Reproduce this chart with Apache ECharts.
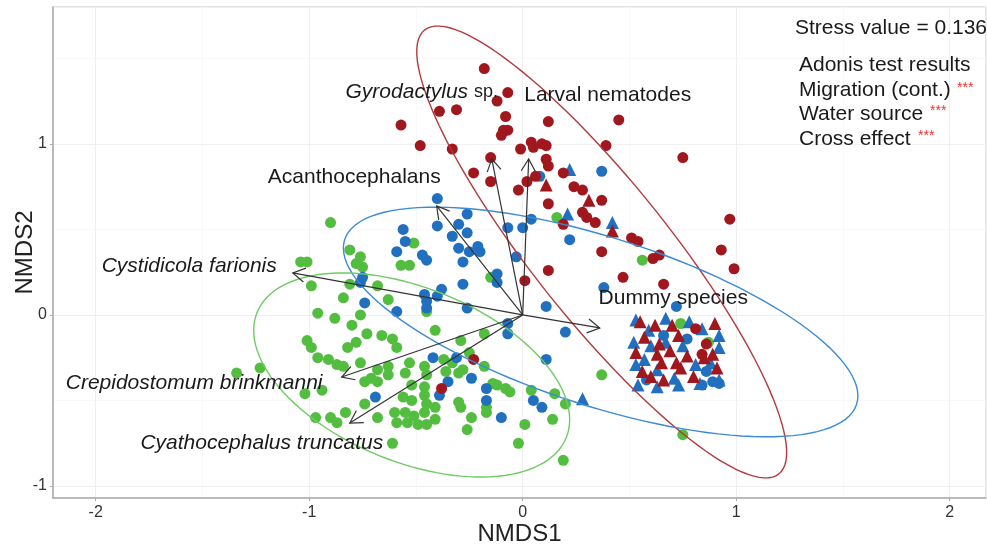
<!DOCTYPE html>
<html><head><meta charset="utf-8">
<script src="https://cdn.jsdelivr.net/npm/echarts@6/dist/echarts.min.js"></script>
<style>html,body{margin:0;padding:0;background:#fff}#c{width:987px;height:546px}</style>
</head><body><div id="c"></div>
<script>
// ---- Data (NMDS scores) ----
const redCircles = [[-0.18,1.44],[-0.07,1.30],[-0.12,1.25],[-0.39,1.19],[-0.31,1.20],[-0.08,1.16],[-0.09,1.08],[-0.07,1.08],[-0.10,1.05],[0.12,1.13],[0.45,1.14],[-0.57,1.11],[-0.48,0.99],[-0.33,0.97],[-0.15,0.92],[-0.01,0.97],[0.04,1.01],[0.05,0.98],[0.09,1.00],[0.11,0.99],[0.39,0.99],[0.75,0.92],[0.11,0.91],[0.12,0.87],[-0.23,0.83],[-0.15,0.78],[0.06,0.81],[0.02,0.78],[-0.02,0.73],[0.19,0.83],[0.24,0.75],[0.28,0.73],[0.12,0.65],[0.37,0.67],[0.28,0.60],[0.30,0.57],[0.34,0.54],[0.19,0.53],[0.51,0.45],[0.54,0.43],[0.37,0.37],[0.61,0.33],[0.64,0.35],[0.97,0.56],[0.93,0.38],[0.99,0.27],[0.66,0.18],[0.12,0.26],[0.47,0.22],[0.01,0.20],[-0.23,-0.26],[-0.38,-0.43],[0.81,-0.08],[0.86,-0.17],[0.84,-0.23]];
const redTriangles = [[0.11,0.76],[0.31,0.67],[0.42,0.49],[0.55,-0.04],[0.62,-0.06],[0.70,-0.06],[0.90,-0.05],[0.57,-0.13],[0.64,-0.17],[0.73,-0.12],[0.53,-0.22],[0.63,-0.23],[0.69,-0.21],[0.77,-0.24],[0.85,-0.25],[0.89,-0.23],[0.65,-0.28],[0.72,-0.28],[0.56,-0.33],[0.60,-0.36],[0.66,-0.38],[0.80,-0.36],[0.74,-0.31],[0.91,-0.31]];
const blueCircles = [[0.37,0.84],[0.08,0.81],[0.22,0.44],[-0.40,0.68],[-0.40,0.52],[-0.26,0.59],[-0.30,0.53],[-0.26,0.48],[-0.33,0.46],[-0.30,0.39],[-0.25,0.37],[-0.21,0.40],[-0.20,0.37],[-0.28,0.31],[-0.07,0.51],[0.00,0.51],[0.04,0.56],[-0.03,0.34],[-0.56,0.50],[-0.55,0.43],[-0.59,0.37],[-0.47,0.35],[-0.45,0.32],[-0.12,0.24],[-0.12,0.19],[-0.28,0.18],[-0.38,0.15],[-0.26,0.04],[0.11,0.05],[0.38,0.16],[0.20,-0.10],[-0.07,-0.05],[-0.07,-0.11],[-0.31,-0.25],[0.11,-0.26],[-0.24,-0.37],[-0.35,-0.39],[-0.39,-0.47],[-0.17,-0.43],[-0.17,-0.50],[-0.10,-0.60],[0.05,-0.50],[0.09,-0.54],[-0.76,0.19],[-0.75,0.22],[-0.74,0.07],[-0.59,0.02],[-0.45,0.08],[-0.45,0.04],[-0.40,0.11],[-0.46,0.12],[-0.42,-0.25],[-0.69,-0.48],[0.72,0.05],[0.77,-0.14],[0.86,-0.33],[0.89,-0.39],[0.92,-0.40],[0.84,-0.41],[0.58,-0.38],[0.66,-0.12]];
const blueTriangles = [[0.22,0.85],[0.21,0.59],[0.42,0.54],[0.28,-0.49],[0.53,-0.03],[0.67,-0.02],[0.84,-0.08],[0.92,-0.12],[0.52,-0.16],[0.60,-0.18],[0.67,-0.16],[0.75,-0.18],[0.92,-0.19],[0.53,-0.29],[0.63,-0.32],[0.73,-0.41],[0.83,-0.40],[0.92,-0.38],[0.54,-0.41],[0.63,-0.42],[0.81,-0.29],[0.59,-0.09],[0.78,-0.04],[0.57,-0.26],[0.71,-0.37],[0.88,-0.28]];
const greenCircles = [[0.16,0.57],[0.56,0.32],[0.75,-0.70],[0.74,-0.05],[0.87,-0.16],[-0.15,0.22],[-0.18,-0.11],[-0.29,-0.15],[-0.25,-0.22],[-0.37,-0.26],[-0.33,-0.28],[-0.36,-0.33],[-0.30,-0.34],[-0.28,-0.32],[-0.18,-0.30],[0.37,-0.35],[-0.12,-0.41],[-0.08,-0.43],[-0.06,-0.45],[-0.14,-0.40],[-0.17,-0.54],[-0.17,-0.57],[-0.30,-0.51],[-0.29,-0.54],[-0.24,-0.60],[-0.26,-0.67],[0.04,-0.44],[0.15,-0.46],[0.20,-0.52],[0.14,-0.61],[0.01,-0.64],[-0.02,-0.75],[0.19,-0.85],[-1.04,0.31],[-1.01,0.31],[-0.99,0.17],[-0.81,0.18],[-0.68,0.17],[-0.84,0.10],[-0.63,0.09],[-0.96,0.01],[-0.88,-0.02],[-0.76,0.00],[-0.80,-0.06],[-0.73,-0.11],[-0.66,-0.12],[-0.61,-0.14],[-0.41,-0.09],[-0.78,-0.16],[-0.82,-0.19],[-1.01,-0.15],[-0.99,-0.19],[-0.96,-0.25],[-0.91,-0.26],[-0.87,-0.29],[-0.84,-0.30],[-0.59,-0.19],[-0.76,-0.28],[-0.68,-0.32],[-0.63,-0.30],[-0.63,-0.35],[-0.55,-0.34],[-0.53,-0.28],[-0.46,-0.30],[-0.45,-0.35],[-0.74,-0.39],[-0.71,-0.37],[-0.68,-0.39],[-0.52,-0.41],[-0.46,-0.42],[-1.34,-0.34],[-1.23,-0.31],[-1.02,-0.46],[-0.94,-0.44],[-0.74,-0.52],[-0.56,-0.48],[-0.60,-0.57],[-0.55,-0.57],[-0.51,-0.59],[-0.46,-0.57],[-0.59,-0.63],[-0.54,-0.63],[-0.49,-0.64],[-0.45,-0.64],[-0.46,-0.47],[-0.45,-0.52],[-0.52,-0.50],[-0.68,-0.60],[-0.83,-0.57],[-0.97,-0.60],[-0.90,-0.60],[-0.87,-0.63],[-0.61,-0.75],[-0.41,-0.54],[-0.41,-0.61],[-0.90,0.54],[-0.51,0.42],[-0.81,0.38],[-0.76,0.34],[-0.78,0.30],[-0.75,0.28],[-0.57,0.29],[-0.53,0.29],[-0.45,0.02]];

// confidence ellipses: centre and two semi-axis vectors (data units)
const ellipseGroups = ['red', 'blue', 'green'];
const ellipseCenter = [[0.37, 0.368], [0.365, -0.041], [-0.52, -0.351]];
const ellipseAxisA = [[0.83, -1.297], [1.199, -0.481], [0.724, -0.366]];
const ellipseAxisB = [[0.248, 0.249], [0.12, 0.468], [0.153, 0.471]];

// species vectors (envfit arrows)
const speciesNames = ['Gyrodactylus sp.', 'Larval nematodes', 'Acanthocephalans', 'Cystidicola farionis', 'Crepidostomum brinkmanni', 'Cyathocephalus truncatus', 'Dummy species'];
const speciesVectors = [[-0.145, 0.912], [0.028, 0.912], [-0.403, 0.637], [-1.077, 0.246], [-0.848, -0.363], [-0.810, -0.632], [0.361, -0.076]];
const speciesLabelAt = [[-0.473, 1.304], [0.398, 1.287], [-0.789, 0.807], [-1.562, 0.287], [-1.539, -0.398], [-1.222, -0.749], [0.705, 0.099]];
const speciesItalic = [true, false, false, true, true, true, false];

const xTicks = [-2, -1, 0, 1, 2];
const yTicks = [-1, 0, 1];

const stressText = 'Stress value = 0.136';
const adonisTitle = 'Adonis test results';
const adonisTerms = ['Migration (cont.)', 'Water source', 'Cross effect'];
const adonisSignif = ['***', '***', '***'];

// ---- Styles ----
const FONT = '"Liberation Sans", Arial, Helvetica, sans-serif';
const RED = '#A0171E', BLUE = '#2170C0', GREEN = '#53BD40';
const ellipseColors = { red: '#B3393D', blue: '#3B8BD6', green: '#6FCB63' };

const chart = echarts.init(document.getElementById('c'));

function scatter(data, color, symbol, size) {
  return { type: 'scatter', data, symbol, symbolSize: size, itemStyle: { color, opacity: 1 }, z: 2, silent: true };
}

const tickFmt = v => (xTicks.includes(v) || yTicks.includes(v)) ? String(v) : '';

const option = {
  animation: false,
  textStyle: { fontFamily: FONT },
  grid: { left: 53, right: 1, top: 7, bottom: 48, containLabel: false, outerBoundsMode: 'none', show: true, borderColor: '#c8c8c8', borderWidth: 1 },
  xAxis: {
    type: 'value', min: -2.2, max: 2.17, splitNumber: 5,
    name: 'NMDS1', nameLocation: 'middle', nameGap: 24, nameMoveOverlap: false,
    nameTextStyle: { fontSize: 24, color: '#222', fontFamily: FONT },
    axisLine: { show: true, onZero: false, lineStyle: { color: '#aaa', width: 1.5 } },
    axisTick: { show: true, length: 3, lineStyle: { color: '#aaa' } },
    axisLabel: { fontSize: 16, color: '#333', fontFamily: FONT, margin: 7, formatter: tickFmt, showMinLabel: false, showMaxLabel: false },
    splitLine: { show: true, lineStyle: { color: '#f0f0f0', width: 1 } },
    minorTick: { show: false, splitNumber: 2 },
    minorSplitLine: { show: true, lineStyle: { color: '#f8f8f8', width: 1 } }
  },
  yAxis: {
    type: 'value', min: -1.07, max: 1.80, splitNumber: 3,
    name: 'NMDS2', nameLocation: 'middle', nameGap: 16, nameRotate: 90, nameMoveOverlap: false,
    nameTextStyle: { fontSize: 24, color: '#222', fontFamily: FONT },
    axisLine: { show: true, onZero: false, lineStyle: { color: '#aaa', width: 1.5 } },
    axisTick: { show: true, length: 3, lineStyle: { color: '#aaa' } },
    axisLabel: { fontSize: 16, color: '#333', fontFamily: FONT, margin: 6, formatter: tickFmt, showMinLabel: false, showMaxLabel: false },
    splitLine: { show: true, lineStyle: { color: '#f0f0f0', width: 1 } },
    minorTick: { show: false, splitNumber: 2 },
    minorSplitLine: { show: true, lineStyle: { color: '#f8f8f8', width: 1 } }
  },
  series: [
    scatter(greenCircles, GREEN, 'circle', 11),
    scatter(blueCircles, BLUE, 'circle', 11),
    scatter(blueTriangles, BLUE, 'triangle', 13),
    scatter(redCircles, RED, 'circle', 11),
    scatter(redTriangles, RED, 'triangle', 13),
    {
      type: 'custom', silent: true, z: 3,
      data: ellipseCenter.map((c, i) => [c[0], c[1], i]),
      encode: { x: 0, y: 1 },
      renderItem: function (params, api) {
        const i = api.value(2);
        const c = ellipseCenter[i], a = ellipseAxisA[i], b = ellipseAxisB[i];
        const pts = [];
        for (let k = 0; k <= 120; k++) {
          const t = 2 * Math.PI * k / 120;
          pts.push(api.coord([c[0] + a[0] * Math.cos(t) + b[0] * Math.sin(t), c[1] + a[1] * Math.cos(t) + b[1] * Math.sin(t)]));
        }
        return { type: 'polyline', shape: { points: pts }, style: { stroke: ellipseColors[ellipseGroups[i]], lineWidth: 1.4, fill: null } };
      }
    },
    {
      type: 'custom', silent: true, z: 4,
      data: speciesVectors.map((v, i) => [v[0], v[1], i]),
      encode: { x: 0, y: 1 },
      renderItem: function (params, api) {
        const s = api.coord([0, 0]);
        const e = api.coord([api.value(0), api.value(1)]);
        const ang = Math.atan2(e[1] - s[1], e[0] - s[0]);
        const L = 14, A = Math.PI / 6;
        const p1 = [e[0] - L * Math.cos(ang - A), e[1] - L * Math.sin(ang - A)];
        const p2 = [e[0] - L * Math.cos(ang + A), e[1] - L * Math.sin(ang + A)];
        return { type: 'group', children: [
          { type: 'line', shape: { x1: s[0], y1: s[1], x2: e[0], y2: e[1] }, style: { stroke: '#333', lineWidth: 1.2 } },
          { type: 'polyline', shape: { points: [p1, e, p2] }, style: { stroke: '#333', lineWidth: 1.2, fill: null } }
        ] };
      }
    },
    {
      type: 'custom', silent: true, z: 5,
      data: speciesLabelAt.map((p, i) => [p[0], p[1], i]),
      encode: { x: 0, y: 1 },
      renderItem: function (params, api) {
        const i = api.value(2);
        const p = api.coord([api.value(0), api.value(1)]);
        const name = speciesNames[i];
        let text, rich;
        if (name.endsWith(' sp.')) {
          text = '{i|' + name.slice(0, -4) + '} {n|sp.}';
          rich = { i: { fontStyle: 'italic', fontSize: 21, fontFamily: FONT, fill: '#1a1a1a' }, n: { fontSize: 18, fontFamily: FONT, fill: '#1a1a1a' } };
        } else {
          text = name;
        }
        return { type: 'text', x: p[0], y: p[1], style: {
          text, rich, fontSize: 21, fontFamily: FONT, fill: '#1a1a1a',
          fontStyle: speciesItalic[i] && !rich ? 'italic' : 'normal',
          align: 'center', verticalAlign: 'middle'
        } };
      }
    }
  ],
  graphic: [
    { type: 'text', z: 100, x: 795, y: 28, style: { text: stressText, fontSize: 21, fontFamily: FONT, fill: '#1a1a1a', verticalAlign: 'middle' } },
    { type: 'text', z: 100, x: 799, y: 65, style: { text: adonisTitle, fontSize: 21, fontFamily: FONT, fill: '#1a1a1a', verticalAlign: 'middle' } },
    { type: 'text', z: 100, x: 799, y: 90, style: { text: adonisTerms[0], fontSize: 21, fontFamily: FONT, fill: '#1a1a1a', verticalAlign: 'middle' } },
    { type: 'text', z: 100, x: 799, y: 114, style: { text: adonisTerms[1], fontSize: 21, fontFamily: FONT, fill: '#1a1a1a', verticalAlign: 'middle' } },
    { type: 'text', z: 100, x: 799, y: 139, style: { text: adonisTerms[2], fontSize: 21, fontFamily: FONT, fill: '#1a1a1a', verticalAlign: 'middle' } },
    { type: 'text', z: 100, x: 957, y: 88, style: { text: adonisSignif[0], fontSize: 14, fontFamily: FONT, fill: '#F03030', verticalAlign: 'middle' } },
    { type: 'text', z: 100, x: 930, y: 111, style: { text: adonisSignif[1], fontSize: 14, fontFamily: FONT, fill: '#F03030', verticalAlign: 'middle' } },
    { type: 'text', z: 100, x: 918, y: 136, style: { text: adonisSignif[2], fontSize: 14, fontFamily: FONT, fill: '#F03030', verticalAlign: 'middle' } }
  ]
};
chart.setOption(option);
</script></body></html>
